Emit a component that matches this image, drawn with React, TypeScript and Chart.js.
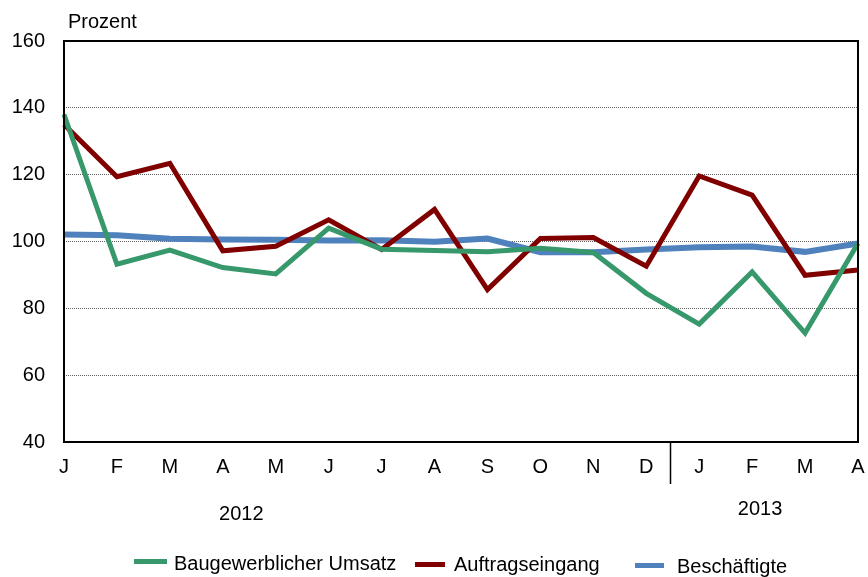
import React, { useEffect, useRef } from "react";
import { Chart, registerables } from "chart.js";

Chart.register(...registerables);

const months = ["J", "F", "M", "A", "M", "J", "J", "A", "S", "O", "N", "D", "J", "F", "M", "A"];
const umsatz = [138, 93.2, 97.4, 92.2, 90.3, 104, 97.7, 97.3, 96.9, 98, 96.7, 84.5, 75.3, 90.9, 72.6, 99.5];
const auftrag = [135, 119.4, 123.4, 97.2, 98.6, 106.5, 97.6, 109.6, 85.6, 100.9, 101.2, 92.6, 119.6, 113.9, 89.9, 91.5];
const beschaeftigte = [102.1, 101.9, 100.8, 100.6, 100.5, 100.3, 100.4, 99.9, 100.9, 96.8, 96.8, 97.6, 98.3, 98.5, 96.9, 99.4];
const yTicks = [40, 60, 80, 100, 120, 140, 160];
const years = [
  { label: "2012", pos: 3.35, y: 514 },
  { label: "2013", pos: 13.15, y: 509 },
];
const legendItems = [
  { label: "Baugewerblicher Umsatz", color: "#37996B", x1: 134, x2: 167, y: 561.5, tx: 174, ty: 564 },
  { label: "Auftragseingang", color: "#800000", x1: 415, x2: 445, y: 564.5, tx: 454, ty: 565 },
  { label: "Beschäftigte", color: "#4F81BD", x1: 635, x2: 664, y: 565.5, tx: 677, ty: 567 },
];

const FONT = "Arial, 'Liberation Sans', sans-serif";

const overlay = {
  id: "overlay",
  afterDraw(chart: any) {
    const { ctx, chartArea } = chart;
    const xs = chart.scales.x;
    ctx.save();
    ctx.strokeStyle = "#000";
    ctx.lineWidth = 2;
    ctx.strokeRect(chartArea.left, chartArea.top, chartArea.right - chartArea.left, chartArea.bottom - chartArea.top);
    const sx = Math.round(xs.getPixelForValue(11.45)) + 0.5;
    ctx.lineWidth = 1.5;
    ctx.beginPath();
    ctx.moveTo(sx, chartArea.bottom);
    ctx.lineTo(sx, chartArea.bottom + 42);
    ctx.stroke();
    ctx.fillStyle = "#000";
    ctx.font = "20px " + FONT;
    ctx.textBaseline = "middle";
    ctx.textAlign = "left";
    ctx.fillText("Prozent", 68, 22);
    ctx.textAlign = "center";
    years.forEach((y) => {
      ctx.fillText(y.label, xs.getPixelForValue(y.pos), y.y);
    });
    legendItems.forEach((it) => {
      ctx.strokeStyle = it.color;
      ctx.lineWidth = 5;
      ctx.beginPath();
      ctx.moveTo(it.x1, it.y);
      ctx.lineTo(it.x2, it.y);
      ctx.stroke();
      ctx.fillStyle = "#000";
      ctx.textAlign = "left";
      ctx.fillText(it.label, it.tx, it.ty);
    });
    ctx.restore();
  },
};

export default function App() {
  const ref = useRef<HTMLCanvasElement | null>(null);
  useEffect(() => {
    if (!ref.current) return;
    const chart = new Chart(ref.current, {
      type: "line",
      data: {
        labels: months,
        datasets: [
          { label: "Baugewerblicher Umsatz", data: umsatz, borderColor: "#37996B", borderWidth: 5, pointRadius: 0, tension: 0 },
          { label: "Auftragseingang", data: auftrag, borderColor: "#800000", borderWidth: 5, pointRadius: 0, tension: 0 },
          { label: "Beschäftigte", data: beschaeftigte, borderColor: "#4F81BD", borderWidth: 6, pointRadius: 0, tension: 0 },
        ],
      },
      options: {
        responsive: false,
        animation: false,
        layout: { padding: { top: 41, right: 10, left: 0, bottom: 0 } },
        plugins: { legend: { display: false }, tooltip: { enabled: false } },
        scales: {
          x: {
            offset: false,
            grid: { display: false, drawTicks: false },
            border: { display: false },
            ticks: { color: "#000", font: { size: 20, family: FONT }, padding: 13, autoSkip: false, maxRotation: 0 },
            afterFit: (s: any) => {
              s.height = 135;
              s.paddingLeft = 0;
              s.paddingRight = 0;
            },
          },
          y: {
            min: 40,
            max: 160,
            afterBuildTicks: (s: any) => { s.ticks = yTicks.map((v) => ({ value: v })); },
            grid: {
              color: (c: any) => (c.tick && (c.tick.value === 40 || c.tick.value === 160) ? "rgba(0,0,0,0)" : "#5f5f5f"),
              lineWidth: 1,
              drawTicks: false,
            },
            border: { display: false, dash: [1, 1] },
            ticks: { color: "#000", font: { size: 20, family: FONT }, padding: 19 },
            afterFit: (s: any) => {
              s.width = 64;
              s.paddingTop = 0;
              s.paddingBottom = 0;
            },
          },
        },
      },
      plugins: [overlay],
    });
    return () => chart.destroy();
  }, []);
  return (
    <div style={{ position: "fixed", left: 0, top: 0, width: 868, height: 577, background: "#fff" }}>
      <canvas ref={ref} width={868} height={577} style={{ width: 868, height: 577 }} />
    </div>
  );
}
